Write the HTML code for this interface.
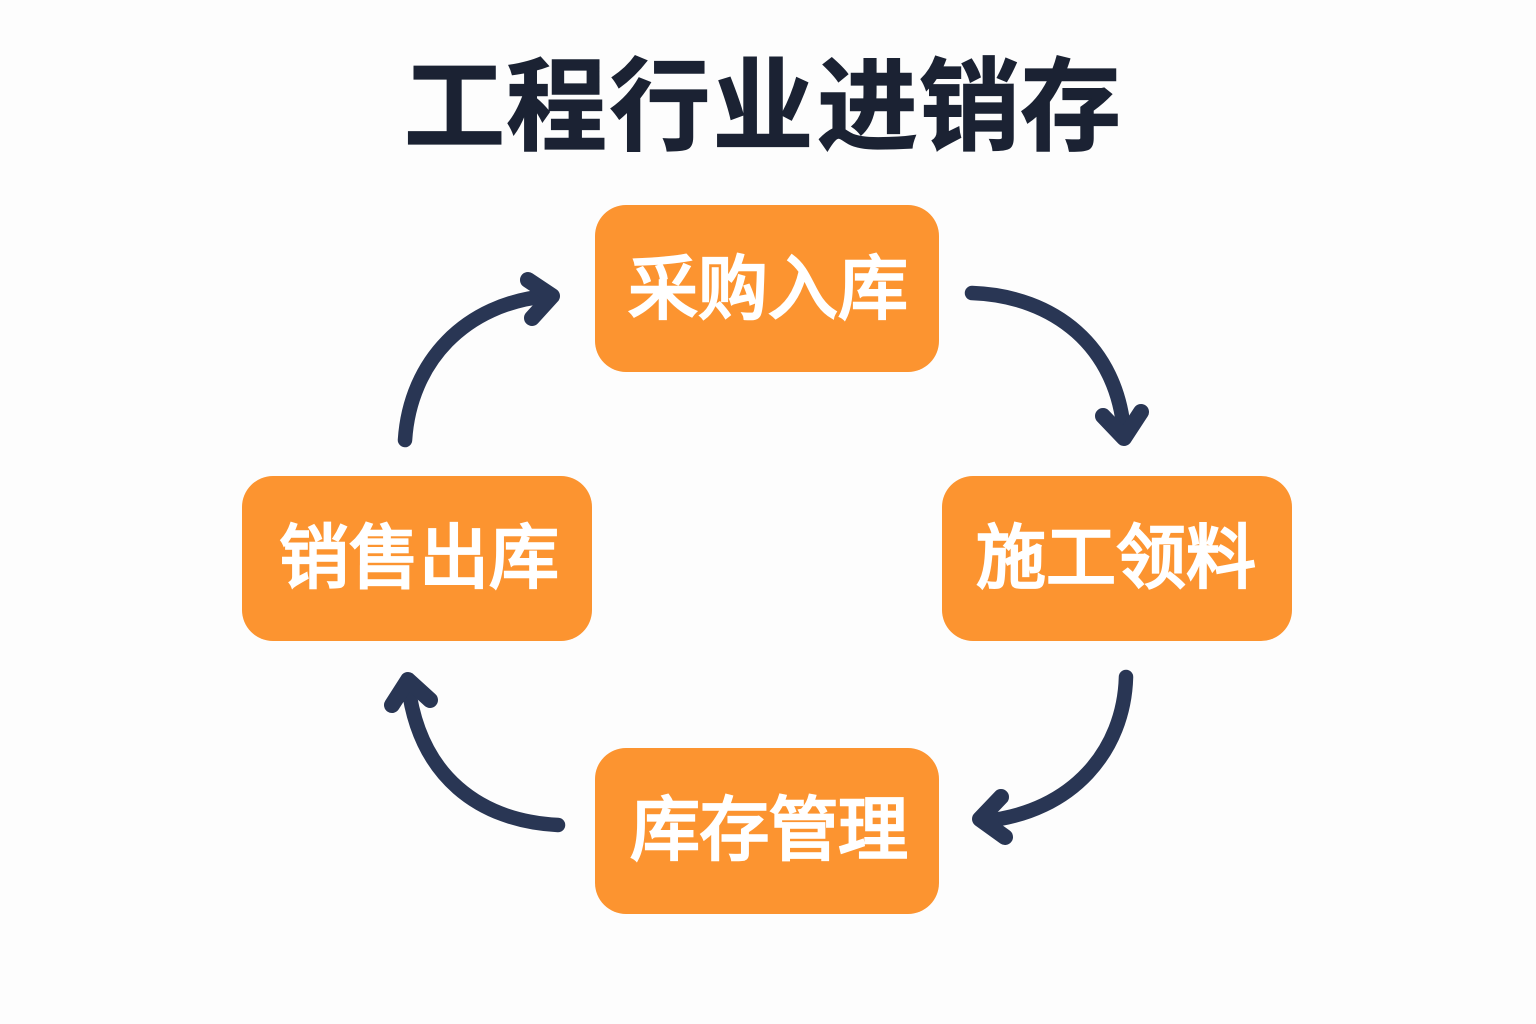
<!DOCTYPE html>
<html><head><meta charset="utf-8"><style>
html,body{margin:0;padding:0;background:#fdfdfd}
svg{display:block}
text{font-family:"Liberation Sans","Noto Sans CJK SC",sans-serif;text-anchor:middle}
</style></head><body>
<svg width="1536" height="1024" viewBox="0 0 1536 1024" xmlns="http://www.w3.org/2000/svg">
<rect width="1536" height="1024" fill="#fdfdfd"/>
<text x="454.5 556.5 660 763 867.5 969.5 1070.5" y="142" font-size="101" font-weight="700" fill="#1b2233" stroke="#1b2233" stroke-width="1.2">工程行业进销存</text>
<g fill="#fc9430">
<rect x="595" y="205" width="344" height="167" rx="31"/>
<rect x="242" y="476" width="350" height="165" rx="31"/>
<rect x="942" y="476" width="350" height="165" rx="31"/>
<rect x="595" y="748" width="344" height="166" rx="31"/>
</g>
<g font-size="70" font-weight="400" fill="#fff" stroke="#fff" stroke-width="2.6">
<text x="768" y="313" textLength="280">采购入库</text>
<text x="419" y="582" textLength="280">销售出库</text>
<text x="1116" y="582" textLength="280">施工领料</text>
<text x="769" y="854" textLength="278">库存管理</text>
</g>
<g fill="none" stroke="#293654" stroke-width="14.5" stroke-linecap="round" stroke-linejoin="round">
<path d="M405 440C410 362 465 303 548 296"/>
<path d="M972 293C1055 296 1117 347 1124 432"/>
<path d="M1126 677C1124 750 1073 812 985 821"/>
<path d="M558 825C480 821 419 777 408 684"/>
</g>
<g fill="none" stroke="#293654" stroke-width="16" stroke-linecap="round" stroke-linejoin="round">
<path d="M528 280L552 296L532 318"/>
<path d="M1103 416L1124 438L1141 412"/>
<path d="M1001 797L980 819L1005 837"/>
<path d="M392 705L408 680L430 700"/>
</g>
</svg>
</body></html>
